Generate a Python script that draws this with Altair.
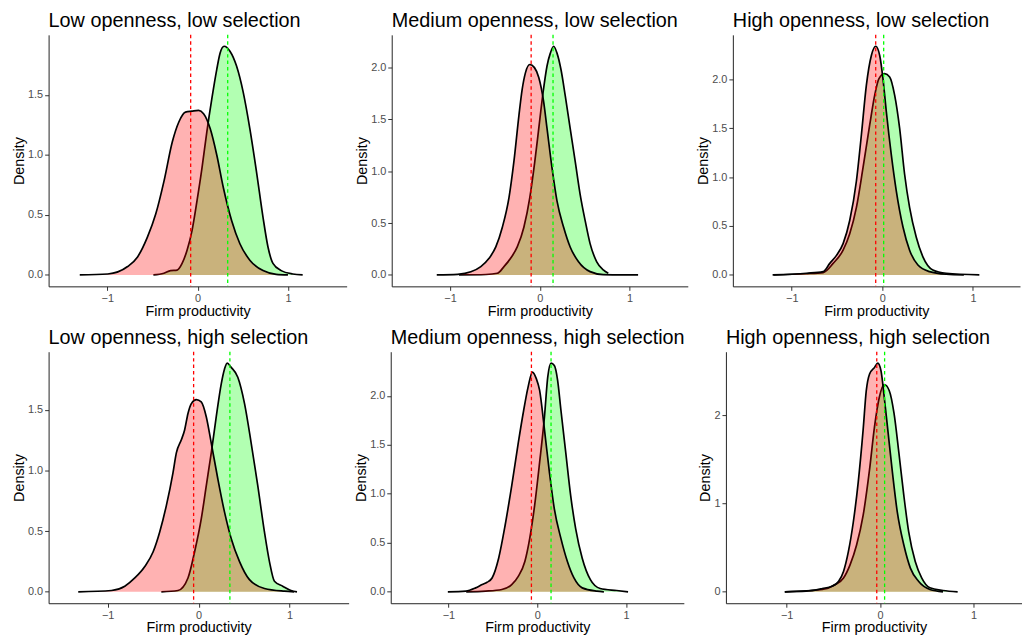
import altair as alt
import pandas as pd

titles = [
    "Low openness, low selection",
    "Medium openness, low selection",
    "High openness, low selection",
    "Low openness, high selection",
    "Medium openness, high selection",
    "High openness, high selection",
]

# ---- panel 1 ----
p1_red_x = [-1.305, -0.995, -0.775, -0.665, -0.556, -0.464, -0.373, -0.28, -0.208, -0.135, -0.062, 0.011, 0.066, 0.139, 0.212, 0.285, 0.377, 0.468, 0.578, 0.724, 0.87, 1.0]
p1_red_y = [0.0, 0.008, 0.07, 0.15, 0.315, 0.507, 0.78, 1.11, 1.275, 1.357, 1.365, 1.371, 1.344, 1.22, 1.0, 0.727, 0.452, 0.26, 0.123, 0.036, 0.005, 0.0]
p1_green_x = [-0.49, -0.373, -0.30, -0.227, -0.172, -0.117, -0.062, -0.007, 0.048, 0.102, 0.157, 0.212, 0.249, 0.293, 0.358, 0.431, 0.505, 0.578, 0.651, 0.724, 0.779, 0.834, 0.925, 1.053, 1.163]
p1_green_y = [0.0, 0.014, 0.036, 0.04, 0.096, 0.206, 0.37, 0.617, 0.89, 1.193, 1.467, 1.714, 1.85, 1.906, 1.865, 1.741, 1.522, 1.22, 0.864, 0.48, 0.233, 0.096, 0.036, 0.008, 0.0]

# ---- panel 2 ----
p2_red_x = [-1.148, -0.915, -0.768, -0.657, -0.565, -0.49, -0.417, -0.343, -0.288, -0.232, -0.196, -0.159, -0.111, -0.059, -0.011, 0.044, 0.081, 0.137, 0.192, 0.266, 0.339, 0.432, 0.561, 0.708, 0.9, 1.096]
p2_red_y = [0.0, 0.006, 0.03, 0.08, 0.16, 0.27, 0.46, 0.746, 1.095, 1.54, 1.79, 1.952, 2.03, 2.0, 1.905, 1.667, 1.413, 1.03, 0.714, 0.46, 0.27, 0.127, 0.032, 0.003, 0.001, 0.0]
p2_green_x = [-0.9, -0.6, -0.472, -0.399, -0.325, -0.251, -0.177, -0.111, -0.055, -0.011, 0.037, 0.081, 0.118, 0.155, 0.192, 0.236, 0.284, 0.339, 0.395, 0.45, 0.506, 0.561, 0.635, 0.708, 0.764]
p2_green_y = [0.0, 0.004, 0.016, 0.08, 0.16, 0.27, 0.46, 0.746, 1.095, 1.413, 1.76, 2.016, 2.14, 2.206, 2.14, 1.984, 1.73, 1.413, 1.095, 0.778, 0.524, 0.302, 0.127, 0.048, 0.016]

# ---- panel 3 ----
p3_red_x = [-1.211, -0.837, -0.653, -0.58, -0.506, -0.433, -0.36, -0.286, -0.231, -0.176, -0.121, -0.073, -0.029, 0.007, 0.044, 0.099, 0.154, 0.228, 0.301, 0.393, 0.521, 0.705, 0.9]
p3_red_y = [0.0, 0.017, 0.034, 0.118, 0.2, 0.32, 0.556, 0.96, 1.433, 1.94, 2.243, 2.337, 2.243, 2.007, 1.67, 1.23, 0.86, 0.49, 0.253, 0.101, 0.034, 0.007, 0.0]
p3_green_x = [-1.2, -0.85, -0.653, -0.543, -0.433, -0.36, -0.286, -0.213, -0.139, -0.084, -0.037, 0.026, 0.081, 0.136, 0.191, 0.246, 0.301, 0.374, 0.448, 0.558, 0.705, 1.071]
p3_green_y = [0.0, 0.012, 0.024, 0.118, 0.253, 0.42, 0.69, 1.096, 1.535, 1.838, 2.007, 2.057, 2.024, 1.838, 1.5, 1.029, 0.69, 0.388, 0.185, 0.05, 0.017, 0.0]

# ---- panel 4 ----
p4_red_x = [-1.324, -0.958, -0.812, -0.702, -0.592, -0.5, -0.428, -0.355, -0.282, -0.245, -0.19, -0.154, -0.117, -0.08, -0.026, 0.029, 0.084, 0.139, 0.212, 0.285, 0.358, 0.45, 0.559, 0.724, 0.943, 1.05]
p4_red_y = [0.0, 0.011, 0.046, 0.114, 0.209, 0.33, 0.493, 0.71, 0.98, 1.144, 1.252, 1.333, 1.469, 1.55, 1.583, 1.564, 1.442, 1.225, 0.927, 0.656, 0.439, 0.249, 0.1, 0.027, 0.005, 0.0]
p4_green_x = [-0.41, -0.227, -0.117, -0.044, 0.029, 0.084, 0.139, 0.194, 0.249, 0.285, 0.314, 0.358, 0.431, 0.505, 0.578, 0.651, 0.724, 0.779, 0.834, 0.925, 1.016, 1.082]
p4_green_y = [0.0, 0.011, 0.114, 0.33, 0.6, 0.873, 1.144, 1.442, 1.713, 1.835, 1.883, 1.848, 1.767, 1.55, 1.225, 0.873, 0.493, 0.249, 0.087, 0.046, 0.011, 0.0]

# ---- panel 5 ----
p5_red_x = [-1.007, -0.804, -0.694, -0.62, -0.565, -0.509, -0.435, -0.362, -0.288, -0.214, -0.159, -0.103, -0.055, -0.011, 0.026, 0.081, 0.137, 0.192, 0.266, 0.339, 0.413, 0.506, 0.672, 0.75]
p5_red_y = [0.0, 0.007, 0.04, 0.074, 0.097, 0.141, 0.343, 0.679, 1.082, 1.519, 1.822, 2.091, 2.242, 2.175, 2.057, 1.654, 1.217, 0.847, 0.545, 0.309, 0.141, 0.04, 0.007, 0.0]
p5_green_x = [-0.8, -0.583, -0.399, -0.288, -0.214, -0.14, -0.085, -0.03, 0.026, 0.081, 0.118, 0.155, 0.192, 0.229, 0.266, 0.321, 0.376, 0.432, 0.506, 0.598, 0.708, 0.893, 1.022]
p5_green_y = [0.0, 0.007, 0.024, 0.074, 0.158, 0.309, 0.545, 0.88, 1.318, 1.788, 2.192, 2.333, 2.309, 2.158, 1.855, 1.418, 0.982, 0.645, 0.343, 0.124, 0.034, 0.013, 0.0]

# ---- panel 6 ----
p6_red_x = [-1.019, -0.792, -0.618, -0.513, -0.443, -0.391, -0.339, -0.286, -0.234, -0.181, -0.147, -0.112, -0.059, -0.024, 0.01, 0.045, 0.087, 0.133, 0.185, 0.255, 0.325, 0.412, 0.534, 0.674]
p6_red_y = [0.0, 0.007, 0.037, 0.063, 0.119, 0.231, 0.454, 0.79, 1.236, 1.832, 2.279, 2.466, 2.54, 2.588, 2.503, 2.205, 1.795, 1.348, 0.901, 0.529, 0.268, 0.119, 0.026, 0.0]
p6_green_x = [-1.02, -0.618, -0.478, -0.391, -0.321, -0.251, -0.181, -0.112, -0.059, -0.007, 0.045, 0.098, 0.15, 0.202, 0.255, 0.307, 0.377, 0.447, 0.534, 0.674, 0.831]
p6_green_y = [0.0, 0.026, 0.082, 0.156, 0.305, 0.529, 0.864, 1.385, 1.87, 2.205, 2.346, 2.279, 2.019, 1.572, 1.088, 0.678, 0.343, 0.156, 0.045, 0.015, 0.0]

red_means = [-0.077, -0.096, -0.073, -0.055, -0.066, -0.035]
green_means = [0.333, 0.148, 0.015, 0.344, 0.155, 0.049]

y_ticks = [
    [0, 0.5, 1.0, 1.5],
    [0, 0.5, 1.0, 1.5, 2.0],
    [0, 0.5, 1.0, 1.5, 2.0],
    [0, 0.5, 1.0, 1.5],
    [0, 0.5, 1.0, 1.5, 2.0],
    [0, 1, 2],
]
y_formats = [".1f", ".1f", ".1f", ".1f", ".1f", "d"]
x_ticks = [-1, 0, 1]

FONT = "Liberation Sans"
RED = "#FF0000"
GREEN = "#00FF00"


def panel(i, rx, ry, gx, gy, width, xdom):
    red = pd.DataFrame({"x": rx, "y": ry})
    green = pd.DataFrame({"x": gx, "y": gy})
    ymax = max(max(ry), max(gy))
    xs = alt.Scale(domain=xdom, nice=False, zero=False)
    ys = alt.Scale(domain=[-0.05 * ymax, 1.05 * ymax], nice=False, zero=False)
    xa = alt.Axis(values=x_ticks, format="d", title="Firm productivity", grid=False)
    ya = alt.Axis(values=y_ticks[i], format=y_formats[i], title="Density", grid=False)
    X = alt.X("x:Q", scale=xs, axis=xa)
    Y = alt.Y("y:Q", scale=ys, axis=ya)

    g_area = alt.Chart(green).mark_area(color=GREEN, opacity=0.3, interpolate="monotone").encode(x=X, y=Y)
    g_line = alt.Chart(green).mark_line(color="black", strokeWidth=1.7, interpolate="monotone").encode(x=X, y=Y)
    r_area = alt.Chart(red).mark_area(color=RED, opacity=0.3, interpolate="monotone").encode(x=X, y=Y)
    r_line = alt.Chart(red).mark_line(color="black", strokeWidth=1.7, interpolate="monotone").encode(x=X, y=Y)
    r_rule = alt.Chart(pd.DataFrame({"m": [red_means[i]]})).mark_rule(
        color=RED, strokeDash=[3.5, 3], strokeWidth=1.3).encode(x=alt.X("m:Q", scale=xs, axis=xa))
    g_rule = alt.Chart(pd.DataFrame({"m": [green_means[i]]})).mark_rule(
        color=GREEN, strokeDash=[3.5, 3], strokeWidth=1.3).encode(x=alt.X("m:Q", scale=xs, axis=xa))

    return alt.layer(g_area, g_line, r_area, r_line, r_rule, g_rule).properties(
        width=width,
        height=254,
        title=alt.TitleParams(
            text=titles[i], anchor="start", frame="group", fontSize=20,
            fontWeight="normal", font=FONT, color="black", offset=3,
        ),
    )


full = [-1.65, 1.65]
P1 = panel(0, p1_red_x, p1_red_y, p1_green_x, p1_green_y, 301, full)
P2 = panel(1, p2_red_x, p2_red_y, p2_green_x, p2_green_y, 299, full)
P3 = panel(2, p3_red_x, p3_red_y, p3_green_x, p3_green_y, 290, [-1.65, 1.52])
P4 = panel(3, p4_red_x, p4_red_y, p4_green_x, p4_green_y, 303, full)
P5 = panel(4, p5_red_x, p5_red_y, p5_green_x, p5_green_y, 296, full)
P6 = panel(5, p6_red_x, p6_red_y, p6_green_x, p6_green_y, 299, [-1.65, 1.52])

row1 = alt.hconcat(P1, P2, P3, spacing=45.5, bounds="flush")
row2 = alt.hconcat(P4, P5, P6, spacing=42.5, bounds="flush")

chart = alt.vconcat(row1, row2, spacing=10).properties(
    padding={"left": 3, "top": 0, "right": 0, "bottom": 0}
).configure_view(stroke=None).configure_axis(
    labelFont=FONT, titleFont=FONT, labelFontSize=11, titleFontSize=14.5,
    labelColor="#4D4D4D", titleColor="black", titleFontWeight="normal",
    tickColor="#333333", tickSize=4, tickWidth=1, domainColor="#222222", domainWidth=1,
    labelPadding=2, titlePadding=1,
).configure_axisX(titlePadding=1)

chart.save("out.html", embed_options={"renderer": "svg", "actions": False})
